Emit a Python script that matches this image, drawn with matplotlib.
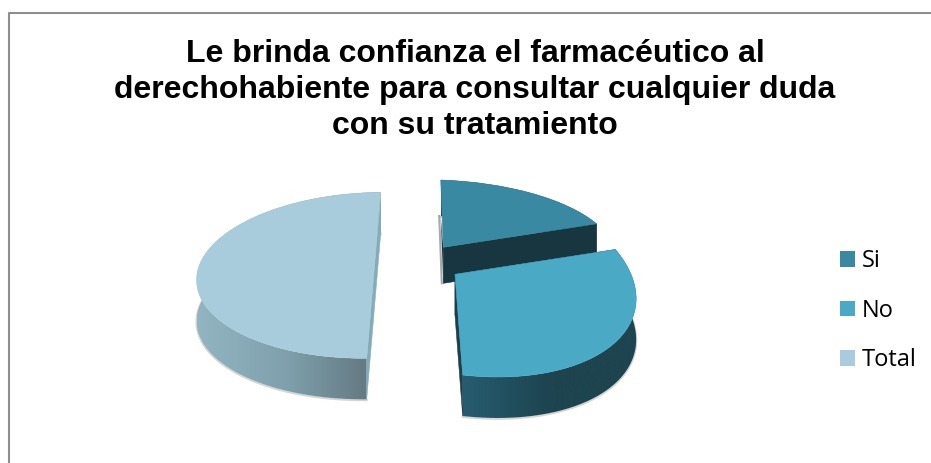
import numpy as np
import matplotlib
matplotlib.use("Agg")
import matplotlib.pyplot as plt
from matplotlib.patches import Wedge, Polygon, Patch
from matplotlib.transforms import Affine2D
from matplotlib.colors import LinearSegmentedColormap

categories = ["Si", "No", "Total"]
values = [18, 32, 50]
title = ("Le brinda confianza el farmacéutico al\n"
         "derechohabiente para consultar cualquier duda\n"
         "con su tratamiento")

top_colors = ["#3A89A3", "#4AA9C4", "#A8CCDB"]
cut_colors = ["#17363F", "#1B3F4B", "#84ABB8"]
wall_grads = [["#17363F", "#17363F"],
              ["#275C70", "#1D444F", "#1D444F"],
              ["#93B5C2", "#7E9FAB", "#5F737C"]]
# per-slice projection: apex, image of the "up" and "right" unit vectors, extrusion depth (pixels)
apex = [(443.3, 247.3), (455.0, 274.3), (373.7, 275.3)]
up = [(-2.6, -67.3), (-7.7, -100.7), (7.0, -83.0)]
right = [(170.5, 5.7), (181.0, 20.0), (177.0, -1.4)]
depth = [36, 41, 41]

W, H = 931, 463
fig = plt.figure(figsize=(W / 100, H / 100), dpi=100)
ax = fig.add_axes([0, 0, 1, 1])
ax.set_axis_off()

# chart frame
ax.plot([8.5, 8.5, W], [H, 12.5, 12.5], color="#8E8E8E", lw=1.5, zorder=1, solid_capstyle="butt")

fractions = np.cumsum([0] + values) / sum(values)
n = 200
for i in [0, 2, 1]:
    a = np.array(apex[i]); u = np.array(up[i]); r = np.array(right[i])
    d = np.array([0, depth[i]])
    z = 10 + {0: 0, 2: 0, 1: 10}[i]
    th = np.linspace(fractions[i], fractions[i + 1], n) * 2 * np.pi
    arc = a + np.outer(np.sin(th), r) + np.outer(np.cos(th), u)
    # soft shadow under the wall
    ax.plot(arc[:, 0], arc[:, 1] + depth[i] + .8, color="#777777", alpha=.3, lw=1.6, zorder=z)
    # outer wall with a horizontal gradient
    wall_xy = np.vstack([arc, arc[::-1] + d])
    wall = Polygon(wall_xy, closed=True, facecolor="none", edgecolor="none", zorder=z + 1)
    ax.add_patch(wall)
    cmap = LinearSegmentedColormap.from_list("w", wall_grads[i])
    im = ax.imshow(np.linspace(0, 1, 256)[None, :], cmap=cmap, aspect="auto", zorder=z + 1,
                   extent=[arc[:, 0].min(), arc[:, 0].max(), H, 0])
    im.set_clip_path(wall)
    # cut faces (the first slice shows only a faint shadow on its hidden side)
    ends = [arc[-1]] if i == 0 else [arc[0], arc[-1]]
    for end in ends:
        ax.add_patch(Polygon([a, end, end + d, a + d], closed=True, facecolor=cut_colors[i],
                             edgecolor=cut_colors[i], lw=.4, zorder=z + 2))
    if i == 0:
        s = np.array([arc[0] + d, a + d])
        ax.plot(s[:, 0] - 1.5, s[:, 1], color="#555555", alpha=.5, lw=1.5, zorder=z)
        ax.add_patch(Polygon([a, a + d, s[0]], closed=True, facecolor=cut_colors[i],
                             edgecolor="none", zorder=z + 2))
    # top face
    t1, t2 = 90 - fractions[i + 1] * 360, 90 - fractions[i] * 360
    m = Affine2D(np.array([[r[0], u[0], a[0]], [r[1], u[1], a[1]], [0, 0, 1.0]]))
    ax.add_patch(Wedge((0, 0), 1, t1, t2, facecolor=top_colors[i], edgecolor=top_colors[i],
                       lw=.4, transform=m + ax.transData, zorder=z + 3))

ax.set_xlim(0, W)
ax.set_ylim(H, 0)

ax.text(475, 90, title, ha="center", va="center", fontsize=23, fontweight="bold",
        family="Liberation Sans", color="black", linespacing=1.27, zorder=30)

handles = [Patch(facecolor=c, edgecolor="none") for c in top_colors]
leg = ax.legend(handles, categories, loc="upper left", bbox_to_anchor=(840 / W, 1 - 249 / H),
                frameon=False, prop={"family": "Open Sans", "size": 17},
                handlelength=.64, handleheight=.64, handletextpad=.3, labelspacing=1.09,
                borderpad=0, borderaxespad=0)
fig.savefig("out.png", dpi=100, facecolor="white")
